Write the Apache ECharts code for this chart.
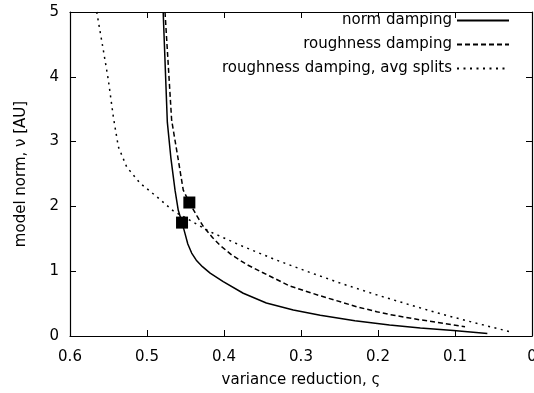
<!DOCTYPE html>
<html>
<head>
<meta charset="utf-8">
<script src="https://cdn.jsdelivr.net/npm/echarts@6/dist/echarts.min.js"></script>
<style>
html,body{margin:0;padding:0;background:#fff;}
#chart{width:534px;height:393px;}
</style>
</head>
<body>
<div id="chart"></div>
<script>
// ---- data ----
const xTicks = [0, 0.1, 0.2, 0.3, 0.4, 0.5, 0.6];
const yTicks = [0, 1, 2, 3, 4, 5];

const seriesNames = ['norm damping', 'roughness damping', 'roughness damping, avg splits'];

const normX = [0.479, 0.4736, 0.469, 0.4636, 0.4594, 0.4545, 0.4506, 0.447, 0.442, 0.436, 0.428, 0.418, 0.401, 0.375, 0.345, 0.31, 0.275, 0.23, 0.185, 0.145, 0.102, 0.058];
const normY = [5.0, 3.3, 2.75, 2.25, 1.94, 1.75, 1.58, 1.42, 1.28, 1.17, 1.07, 0.97, 0.84, 0.66, 0.51, 0.40, 0.32, 0.235, 0.17, 0.125, 0.085, 0.04];

const roughX = [0.4766, 0.468, 0.4594, 0.4529, 0.445, 0.435, 0.4269, 0.415, 0.4052, 0.39, 0.37, 0.35, 0.3143, 0.275, 0.2277, 0.2017, 0.1844, 0.1455, 0.1282, 0.087];
const roughY = [5.0, 3.33, 2.72, 2.25, 2.06, 1.85, 1.69, 1.52, 1.40, 1.25, 1.10, 0.98, 0.77, 0.62, 0.452, 0.375, 0.33, 0.25, 0.22, 0.143];

const avgX = [0.5653, 0.5567, 0.5502, 0.5437, 0.5416, 0.5372, 0.5264, 0.5091, 0.4874, 0.4658, 0.4183, 0.375, 0.3316, 0.2883, 0.245, 0.2017, 0.1584, 0.1152, 0.0719, 0.0286];
const avgY = [5.0, 4.41, 3.95, 3.38, 3.23, 2.92, 2.61, 2.36, 2.15, 1.93, 1.61, 1.38, 1.17, 0.98, 0.80, 0.635, 0.48, 0.33, 0.196, 0.066];

const markX = [0.4545, 0.445];
const markY = [1.75, 2.06];

const xTitle = 'variance reduction, ς';
const yTitle = 'model norm, ν [AU]';

// ---- chart ----
const pairs = (xs, ys) => xs.map((x, i) => [x, ys[i]]);
const FONT = 'DejaVu Sans';
const chart = echarts.init(document.getElementById('chart'), null, {renderer: 'canvas'});

const axisLineStyle = {color: '#000', width: 1.2};
const tickStyle = {show: true, inside: true, length: 6, lineStyle: {color: '#000', width: 1}};

const option = {
  animation: false,
  backgroundColor: '#fff',
  textStyle: {fontFamily: FONT},
  grid: {left: 70, right: 2, top: 12, bottom: 57, containLabel: false, outerBoundsMode: 'none'},
  legend: {
    data: seriesNames,
    orient: 'vertical',
    align: 'right',
    right: 24,
    top: 13,
    padding: 0,
    itemWidth: 52,
    itemHeight: 14,
    itemGap: 9,
    itemStyle: {color: 'rgba(0,0,0,0)', borderWidth: 0, opacity: 0},
    textStyle: {fontFamily: FONT, fontSize: 15, color: '#000', lineHeight: 14},
    selectedMode: false
  },
  xAxis: [{
    type: 'value', min: 0, max: 0.6, interval: 0.1, inverse: true,
    position: 'bottom',
    axisLine: {show: true, onZero: false, lineStyle: axisLineStyle},
    axisTick: tickStyle,
    splitLine: {show: false},
    axisLabel: {fontFamily: FONT, fontSize: 15, color: '#000', margin: 14,
      formatter: v => xTicks.includes(Math.round(v * 10) / 10) ? String(Math.round(v * 10) / 10) : ''},
    name: xTitle, nameLocation: 'middle', nameGap: 37,
    nameTextStyle: {fontFamily: FONT, fontSize: 15, color: '#000'}
  }, {
    type: 'value', min: 0, max: 0.6, interval: 0.1, inverse: true,
    position: 'top',
    axisLine: {show: true, onZero: false, lineStyle: axisLineStyle},
    axisTick: tickStyle,
    splitLine: {show: false},
    axisLabel: {show: false}
  }],
  yAxis: [{
    type: 'value', min: 0, max: 5, interval: 1,
    position: 'left',
    axisLine: {show: true, onZero: false, lineStyle: axisLineStyle},
    axisTick: tickStyle,
    splitLine: {show: false},
    axisLabel: {fontFamily: FONT, fontSize: 15, color: '#000', margin: 11,
      formatter: v => yTicks.includes(v) ? String(v) : ''},
    name: yTitle, nameLocation: 'middle', nameGap: 41,
    nameTextStyle: {fontFamily: FONT, fontSize: 15, color: '#000'}
  }, {
    type: 'value', min: 0, max: 5, interval: 1,
    position: 'right',
    axisLine: {show: true, onZero: false, lineStyle: axisLineStyle},
    axisTick: tickStyle,
    splitLine: {show: false},
    axisLabel: {show: false}
  }],
  series: [
    {
      name: seriesNames[0], type: 'line', data: pairs(normX, normY),
      symbol: 'none', smooth: false, clip: true,
      lineStyle: {color: '#000', width: 1.5, type: 'solid'},
      itemStyle: {color: '#000'}
    },
    {
      name: seriesNames[1], type: 'line', data: pairs(roughX, roughY),
      symbol: 'none', smooth: false, clip: true,
      lineStyle: {color: '#000', width: 1.5, type: [5, 3]},
      itemStyle: {color: '#000'}
    },
    {
      name: seriesNames[2], type: 'line', data: pairs(avgX, avgY),
      symbol: 'none', smooth: false, clip: true,
      lineStyle: {color: '#000', width: 1.5, type: [2, 4.5]},
      itemStyle: {color: '#000'}
    },
    {
      name: 'selected', type: 'scatter', data: pairs(markX, markY),
      symbol: 'rect', symbolSize: 12,
      itemStyle: {color: '#000', opacity: 1}, z: 5
    }
  ]
};
chart.setOption(option);
</script>
</body>
</html>
